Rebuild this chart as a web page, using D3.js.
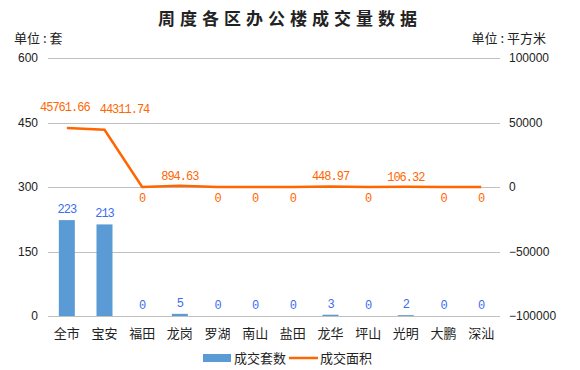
<!DOCTYPE html>
<html>
<head>
<meta charset="utf-8">
<script src="https://cdn.jsdelivr.net/npm/d3@7"></script>
<style>
body { margin: 0; background: #fff; }
text { font-family: "Noto Sans CJK SC", "Liberation Sans", sans-serif; }
.num { font-family: "Liberation Mono", monospace; letter-spacing: -1px; }
</style>
</head>
<body>
<div id="main"></div>
<script>
var districts = ["全市", "宝安", "福田", "龙岗", "罗湖", "南山", "盐田", "龙华", "坪山", "光明", "大鹏", "深汕"];
var dealCount = [223, 213, 0, 5, 0, 0, 0, 3, 0, 2, 0, 0];
var dealArea = [45761.66, 44311.74, 0, 894.63, 0, 0, 0, 448.97, 0, 106.32, 0, 0];
var leftTicks = [0, 150, 300, 450, 600];
var rightTicks = [-100000, -50000, 0, 50000, 100000];

var width = 580, height = 370;
var margin = {top: 58, right: 80, bottom: 54, left: 48};

var svg = d3.select("#main").append("svg")
    .attr("width", width)
    .attr("height", height);

var x = d3.scaleBand().domain(districts).range([margin.left, width - margin.right]);
var yL = d3.scaleLinear().domain([0, 600]).range([height - margin.bottom, margin.top]);
var yR = d3.scaleLinear().domain([-100000, 100000]).range([height - margin.bottom, margin.top]);

// title
svg.append("text")
    .attr("x", 290).attr("y", 25)
    .attr("text-anchor", "middle")
    .style("font-size", "17px").style("font-weight", "bold")
    .style("letter-spacing", "5px")
    .attr("fill", "#222")
    .text("周度各区办公楼成交量数据");

svg.append("text").attr("x", 14).attr("y", 43)
    .style("font-size", "13px").attr("fill", "#222").text("单位 : 套");
svg.append("text").attr("x", 546).attr("y", 43).attr("text-anchor", "end")
    .style("font-size", "13px").attr("fill", "#222").text("单位 : 平方米");

// gridlines
svg.append("g").selectAll("line").data(leftTicks).enter().append("line")
    .attr("x1", margin.left).attr("x2", width - margin.right)
    .attr("y1", d => Math.round(yL(d)) + 0.5).attr("y2", d => Math.round(yL(d)) + 0.5)
    .attr("stroke", "#c0c0c0").attr("stroke-width", 1);

// left axis
var leftAxis = svg.append("g")
    .attr("transform", "translate(" + (margin.left - 10) + ",0)")
    .call(d3.axisLeft(yL).tickValues(leftTicks).tickSize(0).tickPadding(0));
leftAxis.select(".domain").remove();
leftAxis.selectAll("text").style("font-size", "12px").attr("fill", "#222")
    .style("font-family", "Liberation Sans, sans-serif");

// right axis
var rightAxis = svg.append("g")
    .attr("transform", "translate(" + (width - margin.right + 9) + ",0)")
    .call(d3.axisRight(yR).tickValues(rightTicks).tickSize(0).tickPadding(0).tickFormat(d => d < 0 ? "\u2212" + Math.abs(d) : d));
rightAxis.select(".domain").remove();
rightAxis.selectAll("text").style("font-size", "12px").attr("fill", "#222")
    .style("font-family", "Liberation Sans, sans-serif");

// x labels
svg.append("g").selectAll("text").data(districts).enter().append("text")
    .attr("x", d => x(d) + x.bandwidth() / 2)
    .attr("y", height - margin.bottom + 22)
    .attr("text-anchor", "middle")
    .style("font-size", "13px").attr("fill", "#222")
    .text(d => d);

// bars
var barW = 16;
svg.append("g").selectAll("rect").data(dealCount).enter().append("rect")
    .attr("x", (d, i) => x(districts[i]) + x.bandwidth() / 2 - barW / 2)
    .attr("y", d => yL(d))
    .attr("width", barW)
    .attr("height", d => yL(0) - yL(d))
    .attr("fill", "#5b9bd5");

svg.append("g").selectAll("text").data(dealCount).enter().append("text")
    .attr("class", "num")
    .attr("x", (d, i) => x(districts[i]) + x.bandwidth() / 2)
    .attr("y", d => yL(d) - 7)
    .attr("text-anchor", "middle")
    .style("font-size", "12px").attr("fill", "#3d6cf0")
    .text(d => d);

// line
var line = d3.line()
    .x((d, i) => x(districts[i]) + x.bandwidth() / 2)
    .y(d => yR(d));
svg.append("path").datum(dealArea)
    .attr("d", line)
    .attr("fill", "none")
    .attr("stroke", "#ff6600")
    .attr("stroke-width", 2.5);

// labels: first one nudged left, second nudged right so they don't collide
svg.append("g").selectAll("text").data(dealArea).enter().append("text")
    .attr("class", "num")
    .attr("x", (d, i) => x(districts[i]) + x.bandwidth() / 2 + (i == 1 ? 20 : i == 0 ? -2 : 0))
    .attr("y", d => d > 0 ? yR(d) - (d > 10000 ? 17 : 6) : yR(d) + 15)
    .attr("text-anchor", "middle")
    .style("font-size", "12px").attr("fill", "#ff6600")
    .text(d => d);

// legend
var legend = svg.append("g").attr("transform", "translate(0,358)");
legend.append("rect").attr("x", 203).attr("y", -4).attr("width", 28).attr("height", 8).attr("fill", "#5b9bd5");
legend.append("text").attr("x", 234).attr("y", 5).style("font-size", "13px").attr("fill", "#222").text("成交套数");
legend.append("line").attr("x1", 289).attr("x2", 318).attr("y1", 0).attr("y2", 0)
    .attr("stroke", "#ff6600").attr("stroke-width", 2.5);
legend.append("text").attr("x", 320).attr("y", 5).style("font-size", "13px").attr("fill", "#222").text("成交面积");
</script>
</body>
</html>
